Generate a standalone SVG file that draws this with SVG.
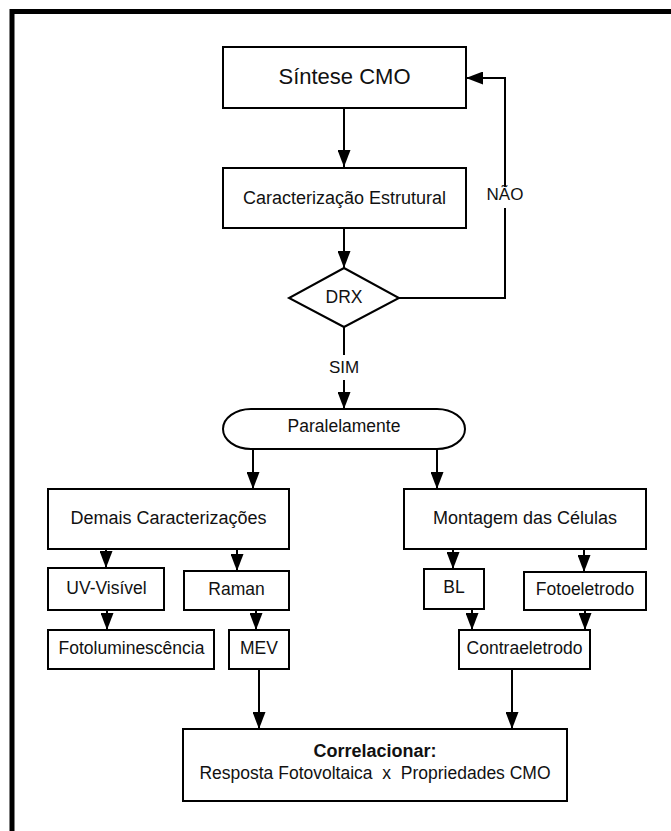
<svg xmlns="http://www.w3.org/2000/svg" width="671" height="831" viewBox="0 0 671 831">
<style>
.box{fill:#fff;stroke:#000;stroke-width:2}
.t{font-family:"Liberation Sans",Arial,sans-serif;font-size:17.5px;fill:#111;text-anchor:middle}
.big{font-size:18px}
.lbl{font-family:"Liberation Sans",Arial,sans-serif;font-size:17px;fill:#111;text-anchor:middle}
.c{fill:none;stroke:#000;stroke-width:2}
</style>
<defs>
<marker id="ah" markerUnits="userSpaceOnUse" markerWidth="17" markerHeight="13" refX="17" refY="6.5" viewBox="0 0 17 13" orient="auto">
<path d="M0,0 L17,6.5 L0,13 Z" fill="#000"/>
</marker>
</defs>
<rect x="0" y="0" width="671" height="831" fill="#fff"/>
<rect x="12" y="11.5" width="720" height="900" fill="none" stroke="#000" stroke-width="5"/>

<g id="connectors">
<path class="c" d="M344,108 V167" marker-end="url(#ah)"/>
<path class="c" d="M344,228 V268" marker-end="url(#ah)"/>
<path class="c" d="M399,298 H505 V208"/>
<path class="c" d="M505,187 V78 H466" marker-end="url(#ah)"/>
<path class="c" d="M344,327 V355"/>
<path class="c" d="M344,380 V409" marker-end="url(#ah)"/>
<path class="c" d="M253,449 V489" marker-end="url(#ah)"/>
<path class="c" d="M437,449 V489" marker-end="url(#ah)"/>
<path class="c" d="M106,549 V568" marker-end="url(#ah)"/>
<path class="c" d="M237,549 V571" marker-end="url(#ah)"/>
<path class="c" d="M107,610 V630" marker-end="url(#ah)"/>
<path class="c" d="M256,610 V630" marker-end="url(#ah)"/>
<path class="c" d="M259,669 V729" marker-end="url(#ah)"/>
<path class="c" d="M453,549 V569" marker-end="url(#ah)"/>
<path class="c" d="M584,549 V572" marker-end="url(#ah)"/>
<path class="c" d="M472,609 V630" marker-end="url(#ah)"/>
<path class="c" d="M585,610 V630" marker-end="url(#ah)"/>
<path class="c" d="M512,669 V729" marker-end="url(#ah)"/>
<text class="lbl" x="505" y="200">NÃO</text>
<text class="lbl" x="344" y="372.5">SIM</text>
</g>

<g id="sintese">
<rect class="box" x="223" y="47" width="243" height="61"/>
<text class="t" style="font-size:22px" x="344.5" y="84">Síntese CMO</text>
</g>
<g id="caracterizacao">
<rect class="box" x="223" y="168" width="243" height="60"/>
<text class="t big" x="344.5" y="204">Caracterização Estrutural</text>
</g>
<g id="drx">
<path class="box" d="M344,268 L399,298 L344,327 L289,298 Z"/>
<text class="t" x="344" y="303">DRX</text>
</g>
<g id="paralelamente">
<rect class="box" x="223" y="409" width="242" height="40" rx="28" ry="20"/>
<text class="t" x="344" y="432">Paralelamente</text>
</g>
<g id="demais">
<rect class="box" x="48" y="489" width="241" height="60"/>
<text class="t big" x="168.5" y="524">Demais Caracterizações</text>
</g>
<g id="montagem">
<rect class="box" x="404" y="489" width="242" height="60"/>
<text class="t big" x="525" y="524">Montagem das Células</text>
</g>
<g id="uvvis">
<rect class="box" x="48" y="568" width="116" height="42"/>
<text class="t" x="106.5" y="594">UV-Visível</text>
</g>
<g id="raman">
<rect class="box" x="184" y="571" width="105" height="39"/>
<text class="t" x="236.5" y="595">Raman</text>
</g>
<g id="fotolum">
<rect class="box" x="48" y="630" width="166" height="39"/>
<text class="t" x="131.5" y="654">Fotoluminescência</text>
</g>
<g id="mev">
<rect class="box" x="229" y="630" width="60" height="39"/>
<text class="t" x="259" y="654">MEV</text>
</g>
<g id="bl">
<rect class="box" x="424" y="569" width="60" height="40"/>
<text class="t" x="454" y="593">BL</text>
</g>
<g id="fotoeletrodo">
<rect class="box" x="524" y="572" width="122" height="38"/>
<text class="t" x="585" y="595">Fotoeletrodo</text>
</g>
<g id="contraeletrodo">
<rect class="box" x="459" y="630" width="131" height="39"/>
<text class="t" x="524.5" y="654">Contraeletrodo</text>
</g>
<g id="correlacionar">
<rect class="box" x="183" y="729" width="384" height="72"/>
<text class="t big" style="font-weight:bold" x="375" y="756.5">Correlacionar:</text>
<text class="t" x="375" y="779" xml:space="preserve">Resposta Fotovoltaica  x  Propriedades CMO</text>
</g>
</svg>
